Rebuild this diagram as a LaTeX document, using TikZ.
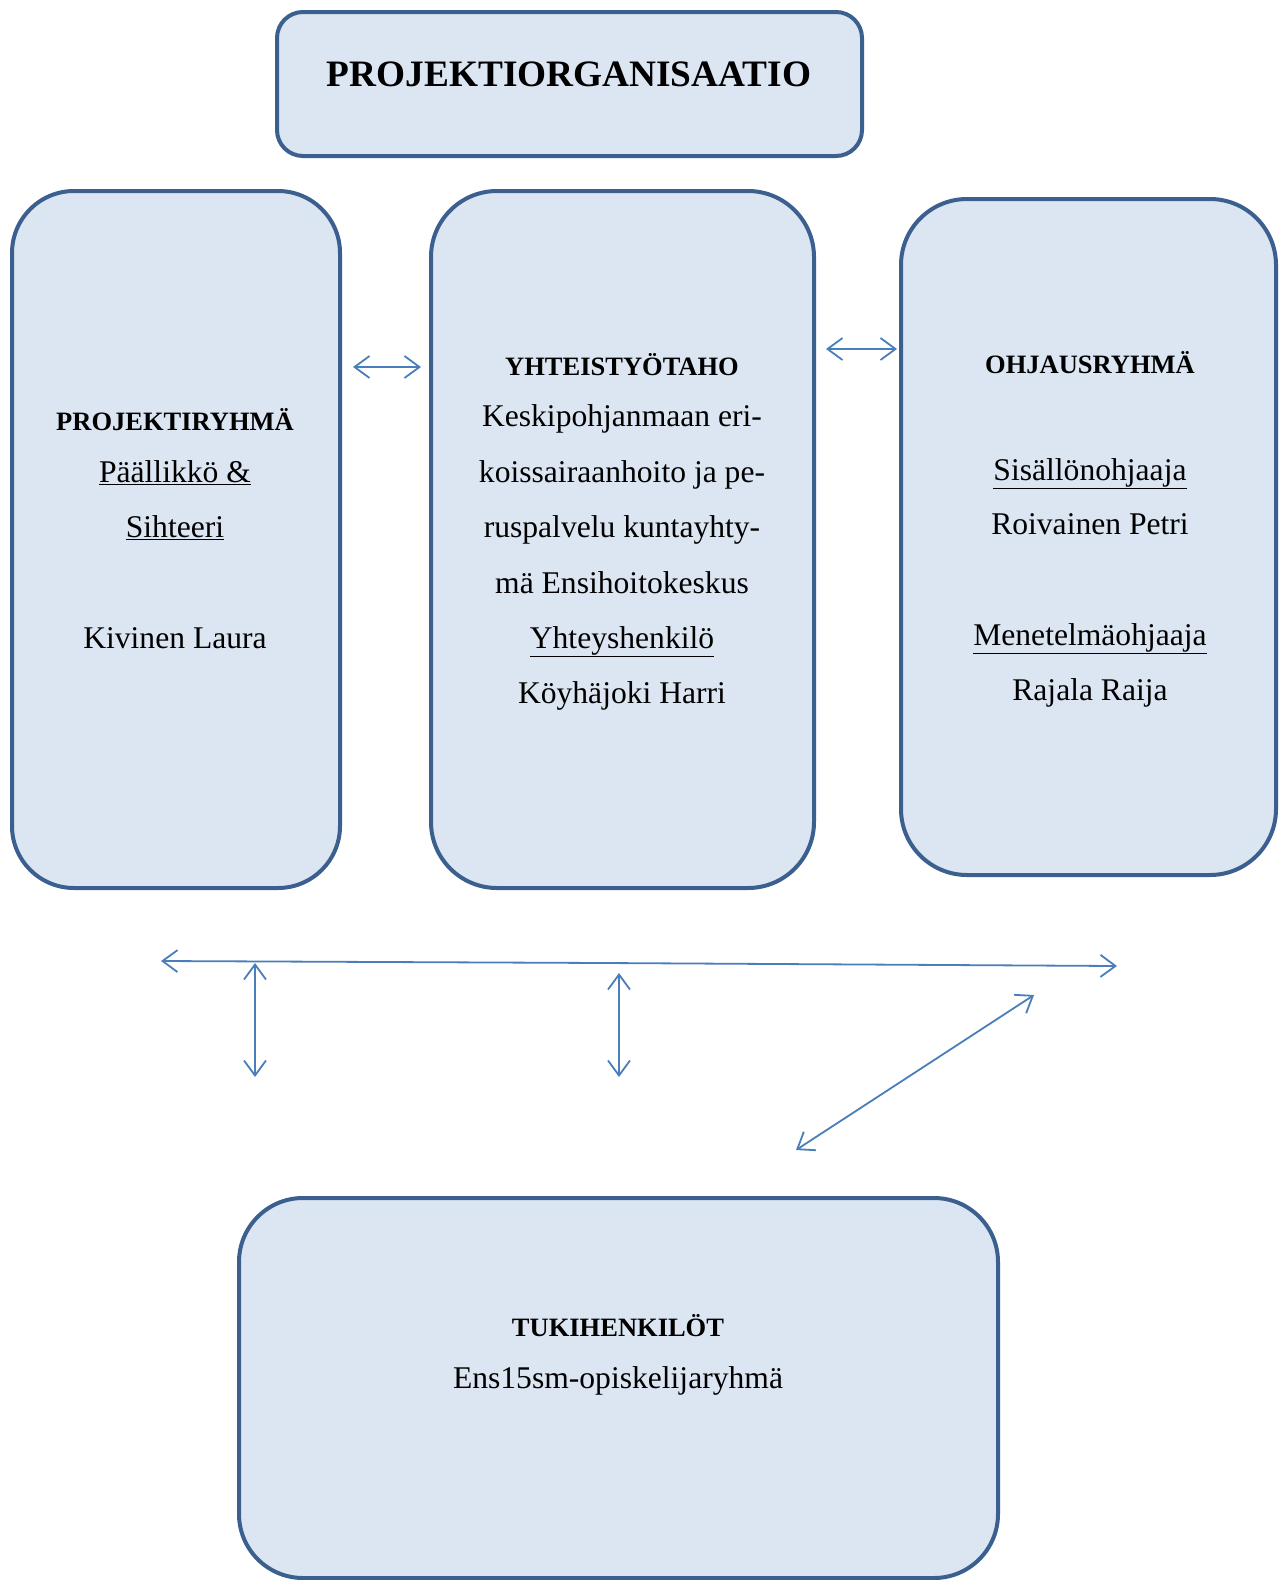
\documentclass[tikz,border=0pt]{standalone}
\usepackage{fontspec}
\setmainfont{Liberation Serif}
\usetikzlibrary{arrows.meta}
\definecolor{boxline}{HTML}{3B5F8E}
\definecolor{boxfill}{HTML}{DCE6F2}
\definecolor{arrowblue}{HTML}{4A7EBB}
\tikzset{
  orgbox/.style={draw=boxline, fill=boxfill, line width=4pt, inner sep=0pt},
  txt/.style={anchor=base, inner sep=0pt, font=\fontsize{31.6}{38}\selectfont},
  head/.style={anchor=base, inner sep=0pt, font=\fontsize{26.5}{32}\selectfont\bfseries},
  biarrow/.style={draw=arrowblue, line width=1.8pt,
    {Straight Barb[length=15pt,width=22pt]}-{Straight Barb[length=15pt,width=22pt]}}
}
\begin{document}
\begin{tikzpicture}[x=1pt,y=-1pt]
\useasboundingbox (0,0) rectangle (1280,1580);
% boxes
\draw[orgbox, rounded corners=26pt] (277,12) rectangle (862,156);
\node[anchor=base, inner sep=0pt, font=\fontsize{37.3}{44}\selectfont\bfseries] (title) at (569,86) {PROJEKTIORGANISAATIO};

\draw[orgbox, rounded corners=62pt] (12,191) rectangle (340,888);
\draw[orgbox, rounded corners=66pt] (431,191) rectangle (814,888);
\draw[orgbox, rounded corners=66pt] (901,199) rectangle (1276,875);
\draw[orgbox, rounded corners=64pt] (239,1198) rectangle (998,1578);

% left texts
\node[head] (l1) at (175,430) {PROJEKTIRYHMÄ};
\node[txt] (l2) at (175,482) {\underline{Päällikkö \&}};
\node[txt] (l3) at (175,537) {\underline{Sihteeri}};
\node[txt] (l4) at (175,648) {Kivinen Laura};

% middle texts
\node[head] (m1) at (622,375) {YHTEISTYÖTAHO};
\node[txt] (m2) at (622,426) {Keskipohjanmaan eri-};
\node[txt] (m3) at (622,482) {koissairaanhoito ja pe-};
\node[txt] (m4) at (622,537) {ruspalvelu kuntayhty-};
\node[txt] (m5) at (622,593) {mä Ensihoitokeskus};
\node[txt] (m6) at (622,648) {\underline{Yhteyshenkilö}};
\node[txt] (m7) at (622,703) {Köyhäjoki Harri};

% right texts
\node[head] (r1) at (1090,373) {OHJAUSRYHMÄ};
\node[txt] (r2) at (1090,480) {\underline{Sisällönohjaaja}};
\node[txt] (r3) at (1090,534) {Roivainen Petri};
\node[txt] (r4) at (1090,645) {\underline{Menetelmäohjaaja}};
\node[txt] (r5) at (1090,700) {Rajala Raija};

% bottom texts
\node[head] (b1) at (618,1336) {TUKIHENKILÖT};
\node[txt] (b2) at (618,1388) {Ens15sm-opiskelijaryhmä};

% arrow end points
\coordinate (a1s) at (353,367);
\coordinate (a1e) at (421,367);
\coordinate (a2s) at (826,349);
\coordinate (a2e) at (897,349);
\coordinate (hl) at (161,961);
\coordinate (hm) at (605,963);
\coordinate (hr) at (1117,966);
\coordinate (v1t) at (255,963);
\coordinate (v1b) at (255,1077);
\coordinate (v2t) at (619,973);
\coordinate (v2b) at (619,1077);
\coordinate (ds) at (796,1150);
\coordinate (de) at (1034,995);

\draw[biarrow] (a1s) -- (a1e);
\draw[biarrow] (a2s) -- (a2e);
\draw[biarrow] (hl) -- (hm) -- (hr);
\draw[biarrow] (v1t) -- (v1b);
\draw[biarrow] (v2t) -- (v2b);
\draw[biarrow] (ds) -- (de);
\end{tikzpicture}
\end{document}
